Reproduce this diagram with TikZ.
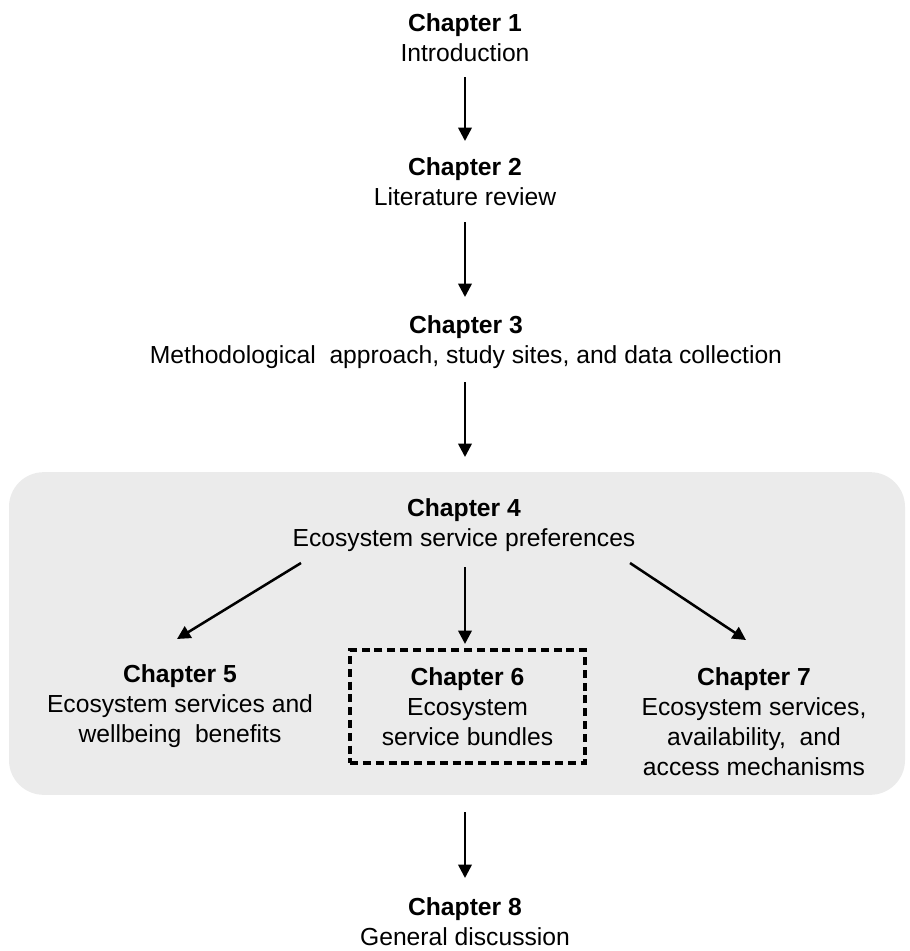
\documentclass[tikz,border=0pt]{standalone}
\usepackage{fontspec}
\setmainfont{Liberation Sans}
\usetikzlibrary{arrows.meta,calc}
\definecolor{panelgrey}{HTML}{EBEBEB}
\tikzset{
  chap/.style={align=center, inner sep=0pt, font=\fontsize{18.5}{22.5}\selectfont},
  arr/.style={line width=1.9pt, -{Triangle[width=10pt,length=10pt]}},
  dashbox/.style={draw, line width=2.6pt, dash pattern=on 6pt off 3.6pt,
    minimum width=176pt, minimum height=85pt},
}
\begin{document}
\begin{tikzpicture}[x=0.75pt,y=-0.75pt]
\useasboundingbox (0,0) rectangle (910,951);
\node[fill=panelgrey, rounded corners=26pt, minimum width=672pt, minimum height=242pt, inner sep=0pt] (panel) at (457,633.5) {};
\node[chap] (c1) at (465,38) {\textbf{Chapter 1}\\Introduction};
\node[chap] (c2) at (465,182) {\textbf{Chapter 2}\\Literature review};
\node[chap] (c3) at (466,342) {\textbf{Chapter 3}\\Methodological\ \ approach, study sites, and data collection};
\node[chap] (c4) at (464,525) {\textbf{Chapter 4}\\Ecosystem service preferences};
\node[chap] (c5) at (180,706) {\textbf{Chapter 5}\\Ecosystem services and\\wellbeing\ \ benefits};
\node[chap, dashbox] (c6) at (467.5,706.5) {\textbf{Chapter 6}\\Ecosystem\\service bundles};
\node[chap] (c7) at (754,721.5) {\textbf{Chapter 7}\\Ecosystem services,\\availability,\ \ and\\access mechanisms};
\node[chap] (c8) at (465,922) {\textbf{Chapter 8}\\General discussion};
\draw[arr, shorten <=29.25pt, shorten >=30.75pt] (c1.center) -- (c2.center);
\draw[arr, shorten <=30pt, shorten >=33.75pt] (c2.center) -- (c2.center |- c3.center);
\draw[arr, shorten <=30pt, shorten >=51pt] (c2.center |- c3.center) -- (c2.center |- c4.center);
\draw[arr, shorten <=31.5pt, shorten >=46.9pt] (c2.center |- c4.center) -- (c2.center |- c6.center);
\draw[arr] ($(c4.center)+(-163,38)$) -- ($(c5.center)+(-3,-67)$);
\draw[arr] ($(c4.center)+(166,38)$) -- ($(c7.center)+(-8,-81.5)$);
\draw[arr, shorten <=12.75pt, shorten >=33pt] (panel.south -| c8.center) -- (c8.center);
\end{tikzpicture}
\end{document}
